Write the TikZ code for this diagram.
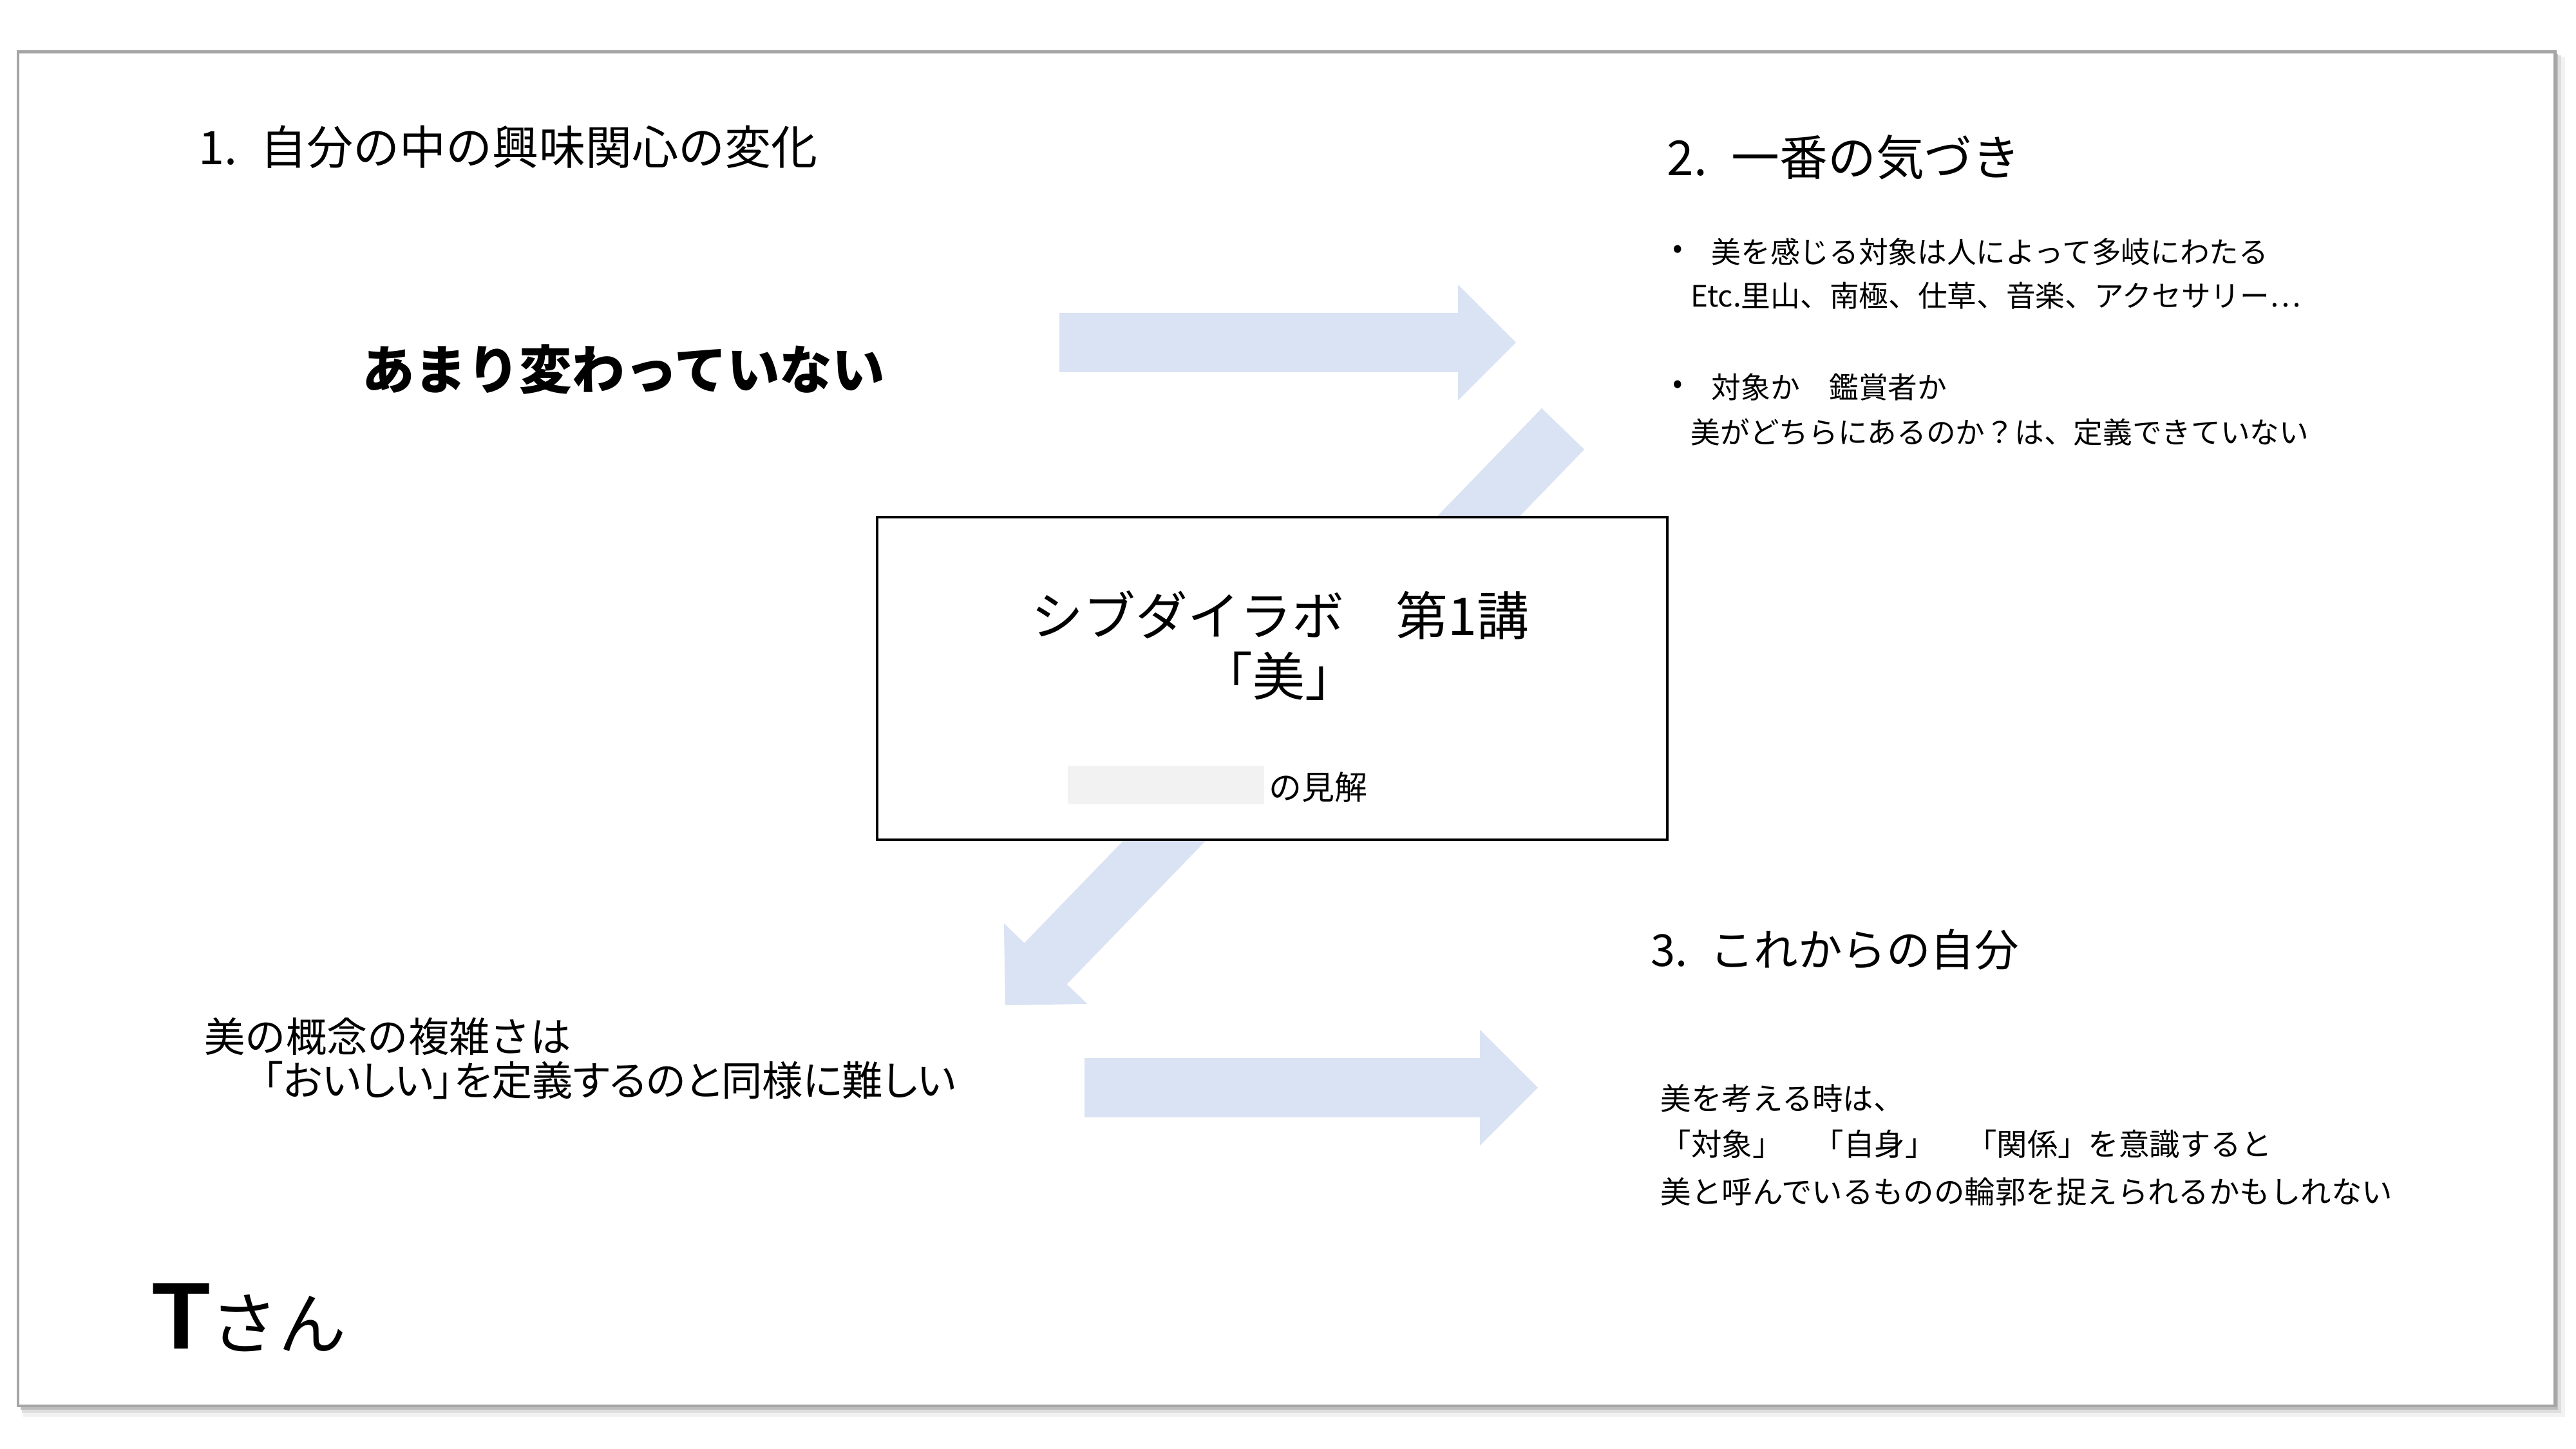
\documentclass[tikz,border=0pt]{standalone}
\usepackage{fontspec}
\setmainfont{Noto Sans CJK JP}
\newfontfamily\propfont{Noto Sans CJK JP}[RawFeature=+palt]
\newfontfamily\latinbold{Liberation Sans}
\usetikzlibrary{calc}
\definecolor{arrowblue}{RGB}{218,227,243}
\definecolor{framegray}{RGB}{165,165,165}
\definecolor{maskgray}{RGB}{242,242,242}
% wide flat arrow from #1 to #2
\newcommand{\blockarrow}[2]{%
  \coordinate (hb) at ($(#2)!0.9cm!(#1)$);
  \fill[arrowblue] ($(#1)!0.46cm!90:(#2)$) -- ($(hb)!0.46cm!-90:(#1)$)
    -- ($(hb)!0.9cm!-90:(#1)$) -- (#2) -- ($(hb)!0.9cm!90:(#1)$)
    -- ($(hb)!0.46cm!90:(#1)$) -- ($(#1)!0.46cm!-90:(#2)$) -- cycle;}
\begin{document}
\begin{tikzpicture}[txt/.style={anchor=west,inner sep=0pt},
    head/.style={txt,font=\fontsize{20}{24}\selectfont},
    body/.style={txt,font=\fontsize{13}{16}\selectfont},
    big/.style={txt,font=\fontsize{18}{22}\selectfont}]
  \fill[white] (0,0) rectangle (40,22.5);
  \useasboundingbox (0,0) rectangle (40,22.5);

  % slide frame
  \fill[black!5] (0.36,0.50) rectangle (39.83,21.62);
  \fill[black!13] (0.34,0.56) rectangle (39.77,21.64);
  \fill[black!26] (0.32,0.61) rectangle (39.72,21.66);
  \draw[framegray,line width=1.4pt,fill=white] (0.28,0.67) rectangle (39.67,21.69);

  % arrows
  \coordinate (a1s) at (16.45,17.18);
  \coordinate (a1e) at (23.54,17.18);
  \coordinate (a2s) at (24.27,15.84);
  \coordinate (a2e) at (15.61,6.89);
  \coordinate (a3s) at (16.84,5.61);
  \coordinate (a3e) at (23.88,5.61);
  \blockarrow{a1s}{a1e}
  \blockarrow{a2s}{a2e}
  \blockarrow{a3s}{a3e}

  % centre box
  \node[draw,line width=1pt,fill=white,minimum width=12.27cm,
    minimum height=5.01cm,inner sep=0pt] (lab) at (19.755,11.965) {};
  \node[inner sep=0pt,font=\fontsize{23}{28}\selectfont] (ttl1) at (19.88,12.95) {シブダイラボ　第1講};
  \node[inner sep=0pt,font=\fontsize{23}{28}\selectfont] (ttl2) at (19.86,12.0) {「美」};
  \fill[maskgray] (16.58,10.01) rectangle (19.63,10.61);
  \node[txt,font=\fontsize{14.5}{17}\selectfont] (view) at (19.70,10.28) {の見解};

  % 1.
  \node[head,font=\fontsize{20.5}{24}\selectfont] (h1) at (3.08,20.22) {1.\enspace 自分の中の興味関心の変化};
  \node[inner sep=0pt,font=\fontsize{23.2}{28}\selectfont\bfseries] (same) at (9.68,16.76) {あまり変わっていない};

  % 2.
  \node[head,font=\fontsize{21.3}{25}\selectfont] (h2) at (25.88,20.06) {2.\enspace 一番の気づき};
  \node[body] (d1) at (25.97,18.59) {•};
  \node[body] (s1) at (26.57,18.59) {美を感じる対象は人によって多岐にわたる};
  \node[body] (s2) at (26.25,17.91) {Etc.里山、南極、仕草、音楽、アクセサリー…};
  \node[body] (d2) at (25.97,16.49) {•};
  \node[body] (s3) at (26.57,16.49) {対象か　鑑賞者か};
  \node[body] (s4) at (26.25,15.79) {美がどちらにあるのか？は、定義できていない};

  % left lower
  \node[big] (c1) at (3.17,6.41) {美の概念の複雑さは};
  \node[big,font=\fontsize{18}{22}\propfont] (c2) at (3.44,5.73) {　「おいしい」を定義するのと同様に難しい};

  % 3.
  \node[head,font=\fontsize{19.5}{24}\selectfont] (h3) at (25.63,7.75) {3.\enspace これからの自分};
  \node[body,font=\fontsize{13.5}{16}\selectfont] (f1) at (25.78,5.44) {美を考える時は、};
  \node[body,font=\fontsize{13.5}{16}\selectfont] (f2) at (25.78,4.74) {「対象」　「自身」　「関係」を意識すると};
  \node[body,font=\fontsize{13.5}{16}\selectfont] (f3) at (25.78,4.00) {美と呼んでいるものの輪郭を捉えられるかもしれない};

  % name
  \node[anchor=base west,inner sep=0pt] (who) at (2.36,1.55)
    {{\latinbold\bfseries\fontsize{42}{48}\selectfont T}{\fontsize{30}{36}\selectfont さん}};
\end{tikzpicture}
\end{document}
